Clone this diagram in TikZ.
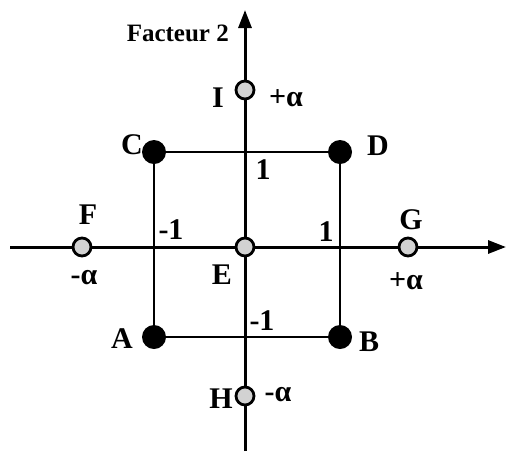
\documentclass[tikz,border=0pt]{standalone}
\usepackage{fontspec}
\setmainfont{Liberation Serif}
\usepackage{tikz}
\usetikzlibrary{arrows.meta,positioning}
\tikzset{
  pt/.style={circle,fill=black,inner sep=0pt,minimum size=24pt},
  ptaxe/.style={circle,draw=black,line width=2.8pt,fill=gray!35,inner sep=0pt,minimum size=18pt},
  ejes/.style={-{Triangle[length=18pt,width=13pt]},line width=3pt},
  lado/.style={line width=2.2pt},
  etq/.style={font=\fontsize{30}{30}\selectfont\bfseries,inner sep=0pt},
  petit/.style={font=\fontsize{25}{25}\selectfont\bfseries,inner sep=0pt}
}

\begin{document}
\begin{tikzpicture}[x=1pt,y=-1pt]
\useasboundingbox (0,0) rectangle (508,451);
% axes
\coordinate (xg) at (10,247); \coordinate (xd) at (506,247);
\coordinate (yb) at (245,451); \coordinate (yh) at (245,10);
\draw[ejes] (xg)--(xd);
\draw[ejes] (yb)--(yh);
\node[petit,anchor=east] (fac) at (229,33) {Facteur 2};
% carre
\node[pt] (A) at (154,337) {}; \node[pt] (B) at (340,337) {};
\node[pt] (C) at (154,152) {}; \node[pt] (D) at (340,152) {};
\draw[lado] (A)--(B)--(D)--(C)--(A);
% points axiaux
\node[ptaxe] (E) at (245,247) {};
\node[ptaxe] (F) at (82,247) {}; \node[ptaxe] (G) at (408,247) {};
\node[ptaxe] (I) at (245,90) {}; \node[ptaxe] (H) at (245,396) {};
% lettres
\node[etq] (lA) at (122,339) {A}; \node[etq] (lB) at (369,342) {B};
\node[etq] (lC) at (132,145) {C}; \node[etq] (lD) at (378,146) {D};
\node[etq] (lE) at (222,275) {E}; \node[etq] (lF) at (88,215) {F};
\node[etq] (lG) at (411,220) {G}; \node[etq] (lH) at (221,399) {H};
\node[etq] (lI) at (218,98) {I};
% niveaux
\node[etq] (n1) at (263,170) {1}; \node[etq] (n2) at (262,321) {-1};
\node[etq] (n3) at (171,230) {-1}; \node[etq] (n4) at (326,232) {1};
\node[etq] (aI) at (286,98) {+α};
\node[etq] (aH) at (278,395) {-α};
\node[etq] (aF) at (84,278) {-α};
\node[etq] (aG) at (406,281) {+α};
\end{tikzpicture}
\end{document}
